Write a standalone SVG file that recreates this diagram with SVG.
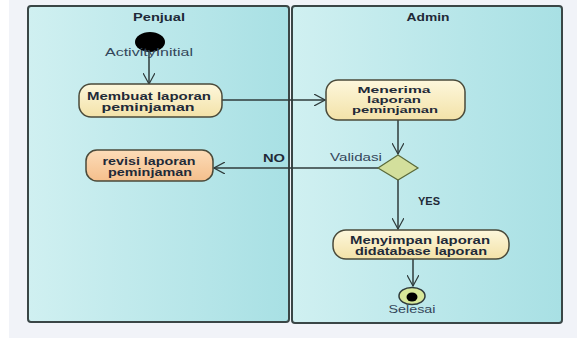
<svg xmlns="http://www.w3.org/2000/svg" width="577" height="338" viewBox="0 0 577 338">
<defs>
<linearGradient id="lane" x1="0" y1="0" x2="1" y2="0">
<stop offset="0" stop-color="#d0f0f1"/>
<stop offset="1" stop-color="#a8e0e4"/>
</linearGradient>
<linearGradient id="act" x1="0" y1="0" x2="0" y2="1">
<stop offset="0" stop-color="#fdf7dc"/>
<stop offset="1" stop-color="#f3e2a8"/>
</linearGradient>
<linearGradient id="rev" x1="0" y1="0" x2="0" y2="1">
<stop offset="0" stop-color="#fcdcb8"/>
<stop offset="1" stop-color="#f5bf8c"/>
</linearGradient>
<marker id="arr" viewBox="0 0 12 12" refX="11" refY="6" markerWidth="12" markerHeight="12" markerUnits="userSpaceOnUse" orient="auto">
<path d="M0,0 L11,6 L0,12" fill="none" stroke="#2f3b3b" stroke-width="1.2"/>
</marker>
</defs>
<style>
.lane{fill:url(#lane);stroke:#3a4646;stroke-width:2}
.act{fill:url(#act);stroke:#4a4a3a;stroke-width:1.5}
.rev{fill:url(#rev);stroke:#4a4a3a;stroke-width:1.5}
.t{font-family:"Liberation Sans",Arial,sans-serif;font-size:11px;font-weight:bold;fill:#1f2a38;text-anchor:middle}
.s{font-size:9.5px}
.r{font-family:"Liberation Sans",Arial,sans-serif;font-size:10.5px;fill:#34465a;text-anchor:middle}
.c{fill:none;stroke:#2f3b3b;stroke-width:1.5;marker-end:url(#arr)}
</style>
<rect x="0" y="0" width="577" height="338" fill="#ffffff"/>
<rect x="9" y="0" width="568" height="338" fill="#f1f3f8"/>
<g id="lane-penjual">
<rect class="lane" x="28" y="6" width="261" height="316" rx="3"/>
<text class="t" x="159" y="21" textLength="52" lengthAdjust="spacingAndGlyphs">Penjual</text>
</g>
<g id="lane-admin">
<rect class="lane" x="292" y="6" width="270" height="317" rx="3"/>
<text class="t" x="428" y="21" textLength="43" lengthAdjust="spacingAndGlyphs">Admin</text>
</g>
<g id="connectors">
<path class="c" d="M149,52 L149,84"/>
<path class="c" d="M222,100 L325,100"/>
<path class="c" d="M398,120 L398,154"/>
<path class="c" d="M378,168 L214,168"/>
<path class="c" d="M398,180 L398,229"/>
<path class="c" d="M413,259 L413,286"/>
<text class="t" x="274" y="162" textLength="22" lengthAdjust="spacingAndGlyphs">NO</text>
<text class="t" x="429" y="205" textLength="22" lengthAdjust="spacingAndGlyphs">YES</text>
</g>
<g id="initial">
<ellipse cx="150" cy="42" rx="15" ry="10" fill="#000"/>
<text class="r" x="149" y="56" textLength="88" lengthAdjust="spacingAndGlyphs">ActivityInitial</text>
</g>
<g id="membuat">
<rect class="act" x="79" y="84" width="143" height="33" rx="12"/>
<text class="t" x="149" y="100" textLength="124" lengthAdjust="spacingAndGlyphs">Membuat laporan</text>
<text class="t" x="148" y="111" textLength="93" lengthAdjust="spacingAndGlyphs">peminjaman</text>
</g>
<g id="menerima">
<rect class="act" x="326" y="80" width="139" height="40" rx="12"/>
<text class="t s" x="394" y="93" textLength="73" lengthAdjust="spacingAndGlyphs">Menerima</text>
<text class="t s" x="394" y="103" textLength="54" lengthAdjust="spacingAndGlyphs">laporan</text>
<text class="t s" x="395" y="113" textLength="86" lengthAdjust="spacingAndGlyphs">peminjaman</text>
</g>
<g id="validasi">
<polygon points="398,155 418,168 398,180 378,168" fill="#d3df9c" stroke="#5a6a3a" stroke-width="1.2"/>
<text class="r" x="356" y="161" textLength="52" lengthAdjust="spacingAndGlyphs">Validasi</text>
</g>
<g id="revisi">
<rect class="rev" x="86" y="150" width="127" height="31" rx="11"/>
<text class="t" x="149" y="165" textLength="93" lengthAdjust="spacingAndGlyphs">revisi laporan</text>
<text class="t" x="150" y="176" textLength="84" lengthAdjust="spacingAndGlyphs">peminjaman</text>
</g>
<g id="menyimpan">
<rect class="act" x="333" y="230" width="176" height="29" rx="13"/>
<text class="t" x="420" y="244" textLength="140" lengthAdjust="spacingAndGlyphs">Menyimpan laporan</text>
<text class="t" x="421" y="255" textLength="132" lengthAdjust="spacingAndGlyphs">didatabase laporan</text>
</g>
<g id="selesai">
<ellipse cx="412" cy="296" rx="13" ry="8.5" fill="#d8e89a" stroke="#2f3b3b" stroke-width="1.5"/>
<ellipse cx="412" cy="297" rx="5.5" ry="4.5" fill="#000"/>
<text class="r" x="412" y="313" textLength="47" lengthAdjust="spacingAndGlyphs">Selesai</text>
</g>
</svg>
